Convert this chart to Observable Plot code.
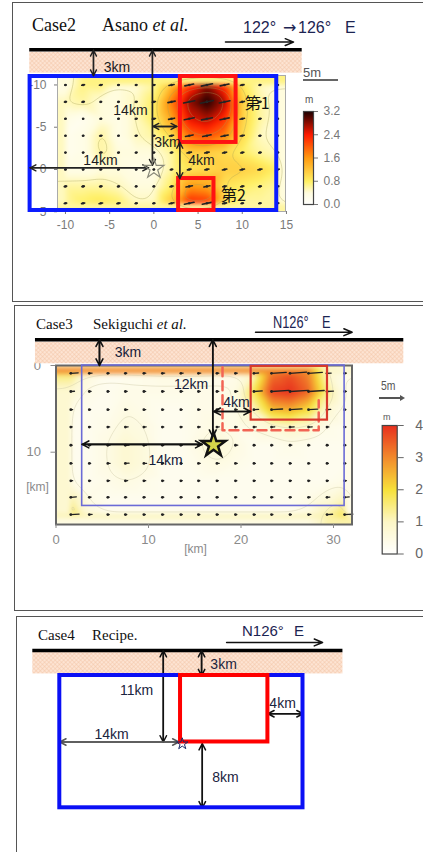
<!DOCTYPE html>
<html lang="ja"><head><meta charset="utf-8">
<script src="https://cdn.jsdelivr.net/npm/d3@7"></script>
<script src="https://cdn.jsdelivr.net/npm/@observablehq/plot@0.6"></script>
<style>
html,body{margin:0;padding:0;background:#fff;}
body{width:423px;height:852px;overflow:hidden;position:relative;}
.box{position:absolute;border:1.5px solid #555;box-sizing:border-box;width:600px;}
.t{position:absolute;white-space:nowrap;line-height:1;color:#111;}
.serif{font-family:"Liberation Serif","Times New Roman",serif;}
.sans{font-family:"Liberation Sans",Arial,sans-serif;}
.narrow{transform:scaleX(0.8);transform-origin:0 0;}
</style></head><body>
<svg width="0" height="0" style="position:absolute">
 <defs>
  <pattern id="hatch" patternUnits="userSpaceOnUse" width="3" height="3" patternTransform="rotate(45)">
   <rect width="3" height="3" fill="#fde4d3"/>
   <path d="M0,0V3M0,0H3" stroke="#f3c4a4" stroke-width="0.9"/>
  </pattern>
 </defs>
</svg>
<div class="box" style="left:12px;top:2px;height:300px"></div>
<div class="box" style="left:14px;top:305px;height:306px"></div>
<div class="box" style="left:16px;top:616px;height:400px"></div>

<div class="t serif" style="left:32px;top:16px;font-size:18px">Case2</div>
<div class="t serif" style="left:102px;top:16px;font-size:18px">Asano <i>et al.</i></div>
<div class="t sans" style="left:243px;top:20px;font-size:16px;color:#1c2452">122°</div>
<div class="t" style="left:283px;top:20px;font-size:16px;color:#1c2452;font-family:'DejaVu Sans',sans-serif">→</div>
<div class="t sans" style="left:298px;top:20px;font-size:16px;color:#1c2452">126°</div>
<div class="t sans" style="left:345px;top:20px;font-size:16px;color:#1c2452">E</div>
<div class="t sans" style="left:303px;top:66px;font-size:13px;color:#555">5m</div>
<div style="position:absolute;left:303px;top:79px;width:35px;height:2px;background:#666"></div>
<div class="t sans" style="left:305px;top:95px;font-size:10px;color:#555">m</div>

<div class="t serif" style="left:36px;top:317px;font-size:15px">Case3</div>
<div class="t serif" style="left:93px;top:317px;font-size:15px">Sekiguchi <i>et al.</i></div>
<div class="t sans narrow" style="left:273px;top:315px;font-size:16px;color:#1c2452">N126°</div>
<div class="t sans narrow" style="left:322px;top:315px;font-size:16px;color:#1c2452">E</div>
<div class="t sans narrow" style="left:381px;top:379px;font-size:13px;color:#555">5m</div>
<div style="position:absolute;left:379px;top:397px;width:22px;height:1.5px;background:#555"></div>
<div style="position:absolute;left:400px;top:395px;width:0;height:0;border-left:5px solid #555;border-top:3px solid transparent;border-bottom:3px solid transparent"></div>
<div class="t sans" style="left:383px;top:413px;font-size:9px;color:#555">m</div>

<div class="t serif" style="left:38px;top:628px;font-size:15px">Case4</div>
<div class="t serif" style="left:92px;top:628px;font-size:15px">Recipe.</div>
<div class="t sans" style="left:242px;top:623px;font-size:15px;color:#1c2452">N126°</div>
<div class="t sans" style="left:294px;top:623px;font-size:15px;color:#1c2452">E</div>

<script>
// ================= Panel 1 : Case2 Asano et al. =================
const p1Cols = [-10,-8,-6,-4,-2,0,2,4,6,8,10,12,14];      // km along strike
const p1Rows = [-10,-8,-6,-4,-2,0,2,4];                    // km along dip
const p1Slip = [                                            // slip (m)
  [0.3,0.7,0.7,0.4,0.4,0.6,1.3,2.2,2.8,2.2,0.9,0.5,0.4],
  [0.5,0.6,0.4,0.4,0.5,0.8,1.8,2.8,3.2,2.7,1.1,0.6,0.4],
  [0.3,0.2,0.4,0.3,0.5,0.8,1.5,2.5,2.7,2.3,1.1,0.6,0.4],
  [0.2,0.3,0.6,0.3,0.5,0.6,1.0,1.9,2.1,1.8,1.0,0.5,0.4],
  [0.2,0.3,0.6,0.4,0.4,0.4,0.6,1.1,1.1,1.0,0.8,0.6,0.5],
  [0.3,0.3,0.4,0.4,0.3,0.3,0.6,0.9,1.0,1.1,1.1,1.0,0.8],
  [0.6,0.6,0.6,0.5,0.4,0.4,0.8,1.6,1.5,0.9,0.8,0.7,0.6],
  [0.6,0.8,0.9,0.8,0.5,0.5,1.2,2.4,2.3,1.0,0.6,0.6,0.6]
];
const p1XTicks = [-10,-5,0,5,10,15];
const p1YTicks = [-10,-5,0,5];
const p1CbTicks = [0,0.8,1.6,2.4,3.2];
const p1Extent = {x1:-10.9, x2:14.89, y1:-11.12, y2:4.97};
const p1Fault = [{x1:-14.0, x2:13.9, y1:-11.0, y2:4.85}];
const p1Asper = [
  {name:"第1", x1:3.0, x2:9.3, y1:-11.0, y2:-3.2, lx:11.7, ly:-7.75},
  {name:"第2", x1:2.8, x2:6.8, y1:1.07, y2:4.85, lx:9.0, ly:3.08}
];
const p1Hypo = [{x:0, y:-0.1}];
const p1Dims = [
  {label:"3km",  x1:-6.83, y1:-14.1, x2:-6.83, y2:-11.1, lx:-4.17, ly:-12.07},
  {label:"14km", x1:-0.16, y1:-14.1, x2:-0.16, y2:-0.5,  lx:-2.65, ly:-6.98},
  {label:"14km", x1:-14.0, y1:-0.2,  x2:-0.6,  y2:-0.2,  lx:-6.04, ly:-1.07},
  {label:"3km",  x1:-0.1,  y1:-5.09, x2:2.6,   y2:-5.09, lx:1.54,  ly:-3.2},
  {label:"4km",  x1:2.93,  y1:-3.2,  x2:2.93,  y2:1.07,  lx:5.38,  ly:-1.07}
];
const p1Surface = [{x1:-14.04, x2:16.78, y:-14.17, b1:-13.88, b2:-11.4}];
const p1Strike = [{x1:8.1, x2:15.8, y:-15.07}];

// ================= Panel 2 : Case3 Sekiguchi et al. =================
const p2Cols = [1.6,3.6,5.6,7.5,9.5,11.5,13.5,15.4,17.4,19.4,21.4,23.3,25.3,27.3,29.3,31.2];
const p2Rows = [0.9,3.0,5.1,7.1,9.2,11.3,13.3,15.2,17.2];
const p2Slip = [
  [1.6,0.6,0.3,0.3,0.4,0.5,0.5,0.5,0.4,0.4,1.0,3.2,3.6,3.0,0.9,0.4],
  [0.8,0.4,0.3,0.4,0.4,0.4,0.4,0.4,0.4,0.5,1.8,3.8,4.0,3.4,1.4,0.4],
  [0.4,0.3,0.3,0.5,0.4,0.3,0.3,0.4,0.4,0.4,1.0,2.4,2.6,2.0,0.8,0.3],
  [0.3,0.3,0.4,0.6,0.5,0.3,0.3,0.4,0.5,0.4,0.5,0.7,0.9,0.8,0.4,0.3],
  [0.3,0.3,0.5,0.8,0.6,0.3,0.3,0.5,0.7,0.5,0.3,0.3,0.4,0.3,0.3,0.3],
  [0.3,0.3,0.5,0.8,0.6,0.3,0.3,0.4,0.5,0.4,0.3,0.3,0.3,0.3,0.3,0.3],
  [0.4,0.3,0.4,0.5,0.4,0.3,0.3,0.3,0.3,0.3,0.3,0.3,0.3,0.3,0.3,0.4],
  [1.2,0.4,0.3,0.3,0.3,0.3,0.3,0.3,0.3,0.3,0.3,0.3,0.3,0.4,0.6,1.0],
  [1.8,0.6,0.3,0.3,0.3,0.3,0.3,0.3,0.3,0.3,0.3,0.3,0.3,0.5,1.2,1.8]
];
const p2XTicks = [0,10,20,30];
const p2YTicks = [0,10];
const p2CbTicks = [0,1,2,3,4];
const p2AxisLabels = [{label:"[km]", x:15.08, y:21.2}, {label:"[km]", x:-2.0, y:14.04}];
const p2Extent = {x1:0, x2:32, y1:0, y2:18.34};
const p2Fault = [{x1:2.83, x2:31.2, y1:0, y2:16.2}];
const p2Asper = [{x1:21.1, x2:29.35, y1:0.1, y2:6.3}];
const p2Dashed = [{x:18.0, y:0.2},{x:18.0, y:7.47},{x:28.4, y:7.47},{x:28.4, y:4.0}];
const p2Hypo = [{x:17.03, y:9.17}];
const p2Dims = [
  {label:"3km",  x1:4.7,   y1:-2.96, x2:4.7,   y2:0,    lx:7.78,  ly:-1.53},
  {label:"12km", x1:16.95, y1:-2.96, x2:16.95, y2:8.2,  lx:14.6,  ly:2.19},
  {label:"4km",  x1:17.06, y1:5.3,   x2:21.03, y2:5.3,  lx:19.5,  ly:4.3},
  {label:"14km", x1:2.83,  y1:9.1,   x2:15.8,  y2:9.1,  lx:11.84, ly:10.96}
];
const p2Surface = [{x1:-2.22, x2:37.6, y:-2.96, b1:-2.69, b2:-0.2}];
const p2Strike = [{x1:21.57, x2:32.02, y:-3.84}];

// ================= Panel 3 : Case4 Recipe =================
const p3Fault = [{x1:-14, x2:14.2, y1:-8.01, y2:7.93}];
const p3Asper = [{x1:0, x2:10.13, y1:-8.01, y2:0}];
const p3Hypo = [{x:0.2, y:0.22}];
const p3Dims = [
  {label:"3km",  x1:2.44,  y1:-11.0, x2:2.44, y2:-8.0, lx:4.99,  ly:-9.34},
  {label:"11km", x1:-2.0,  y1:-11.0, x2:-2.0, y2:0,    lx:-5.1,  ly:-6.2},
  {label:"4km",  x1:10.13, y1:-3.4,  x2:14.2, y2:-3.4, lx:11.83, ly:-4.64},
  {label:"14km", x1:-14,   y1:0,     x2:-0.2, y2:0,    lx:-8.0,  ly:-0.84},
  {label:"8km",  x1:2.52,  y1:0.2,   x2:2.52, y2:7.93, lx:5.22,  ly:4.28}
];
const p3Surface = [{x1:-17.13, x2:18.83, y:-11.02, b1:-10.8, b2:-8.2}];
const p3Strike = [{x1:5.34, x2:16.47, y:-11.99}];

// ---------- helpers ----------
const grid = (rows, cols, vals) => rows.flatMap((y, i) => cols.map((x, j) => ({x, y, v: vals[i][j]})));
const p1Grid = grid(p1Rows, p1Cols, p1Slip);
const p2Grid = grid(p2Rows, p2Cols, p2Slip);
const SANS = "Liberation Sans, Arial, sans-serif";
const baseStyle = {background: "transparent", overflow: "visible", fontFamily: SANS};
const color1 = {type: "linear", domain: [0,0.4,0.8,1.6,2.4,3.2],
  range: ["#ffffff","#fffcde","#fff064","#ff9a10","#ff1a00","#1c0000"], clamp: true};
const color2 = {type: "linear", domain: [0,1,2,3,4],
  range: ["#ffffff","#fcf6c6","#f7e13a","#f28a2c","#e8301e"], clamp: true};

const dimArrows = (dims, stroke, sw) => [
  Plot.arrow(dims, {x1:"x1", y1:"y1", x2:"x2", y2:"y2", stroke, strokeWidth: sw, headLength: 7, headAngle: 55}),
  Plot.arrow(dims, {x1:"x2", y1:"y2", x2:"x1", y2:"y1", stroke, strokeWidth: sw, headLength: 7, headAngle: 55})
];
const dimLabels = (dims, fill) => Plot.text(dims, {x:"lx", y:"ly", text:"label", fontSize: 14, fill, fontFamily: SANS});
const surfaceMarks = (s, st, sw) => [
  Plot.rect(s, {x1:"x1", x2:"x2", y1:"b1", y2:"b2", fill:"url(#hatch)"}),
  Plot.ruleY(s, {y:"y", x1:"x1", x2:"x2", stroke:"#000", strokeWidth: sw}),
  Plot.arrow(st, {x1:"x1", x2:"x2", y1:"y", y2:"y", stroke:"#111", strokeWidth: 1.5, headLength: 9, headAngle: 45})
];
// slip vectors as short segments (length proportional to slip)
const slipLinks = (data, k, deg, centered, sw) => {
  const c = Math.cos(deg * Math.PI / 180), s = Math.sin(deg * Math.PI / 180);
  const a = centered ? 0.5 : 0, b = centered ? 0.5 : 1;
  return Plot.link(data, {
    x1: d => d.x - a * k * d.v * c, y1: d => d.y + a * k * d.v * s,
    x2: d => d.x + b * k * d.v * c, y2: d => d.y - b * k * d.v * s,
    stroke: "#222", strokeWidth: sw, strokeLinecap: "round"
  });
};
function place(el, left, top) {
  el.style.position = "absolute";
  el.style.left = left + "px";
  el.style.top = top + "px";
  document.body.appendChild(el);
}

// ---------- Panel 1 ----------
const plot1 = Plot.plot({
  width: 410, height: 298, marginLeft: 44, marginRight: 138, marginTop: 72, marginBottom: 90,
  style: baseStyle,
  x: {domain: [p1Extent.x1, p1Extent.x2]},
  y: {domain: [p1Extent.y2, p1Extent.y1]},
  color: color1,
  marks: [
    Plot.raster(p1Grid, {x:"x", y:"y", fill:"v", interpolate:"barycentric", ...p1Extent, blur: 2}),
    Plot.contour(p1Grid, {x:"x", y:"y", value:"v", interpolate:"barycentric", ...p1Extent, blur: 3,
      thresholds: [0.5,1,1.5,2,2.5,3], stroke:"#a59f55", strokeWidth: 0.6, strokeOpacity: 0.6, fill:"none"}),
    Plot.frame({stroke:"#aaa"}),
    Plot.dot(p1Grid, {x:"x", y:"y", r: 1.3, fill:"#333"}),
    slipLinks(p1Grid, 0.46, 12, true, 1.6),
    Plot.axisX(p1XTicks, {tickSize: 3, tickPadding: 6, fontSize: 12, color:"#7a7a7a", tickFormat: d => String(d), label: null}),
    Plot.axisY(p1YTicks, {tickSize: 3, tickPadding: 8, fontSize: 12, color:"#7a7a7a", tickFormat: d => String(d), label: null}),
    ...surfaceMarks(p1Surface, p1Strike, 3.5),
    Plot.rect(p1Fault, {x1:"x1", x2:"x2", y1:"y1", y2:"y2", fill:"none", stroke:"#0b1cff", strokeWidth: 4}),
    Plot.rect(p1Asper, {x1:"x1", x2:"x2", y1:"y1", y2:"y2", fill:"none", stroke:"#ff1212", strokeWidth: 4}),
    ...dimArrows(p1Dims, "#222", 1.4),
    Plot.dot(p1Hypo, {x:"x", y:"y", symbol:"star", r: 6.3, fill:"none", stroke:"#8a8a7a", strokeWidth: 1.2}),
    dimLabels(p1Dims, "#1b1b22"),
    Plot.text(p1Asper, {x:"lx", y:"ly", text:"name", fontSize: 16, fontFamily:"Noto Sans CJK JP", fill:"#111"})
  ]
});
place(plot1, 13, 3);

const cb1 = Plot.plot({
  width: 70, height: 160, marginLeft: 13, marginRight: 47, marginTop: 51, marginBottom: 16,
  style: baseStyle,
  x: {domain: [0, 1], axis: null},
  y: {domain: [0, 3.2]},
  color: color1,
  marks: [
    Plot.raster({x1: 0, x2: 1, y1: 3.2, y2: 0, fill: (x, y) => y, width: 1, height: 190, imageRendering: "auto"}),
    Plot.frame({stroke:"#444", strokeWidth: 1.2}),
    Plot.axisY(p1CbTicks, {anchor:"right", tickSize: 4, tickPadding: 6, fontSize: 12, color:"#777", tickFormat: d => d.toFixed(1), label: null})
  ]
});
place(cb1, 290, 60);

// ---------- Panel 2 ----------
const plot2 = Plot.plot({
  width: 408, height: 304, marginLeft: 40.5, marginRight: 71.5, marginTop: 58, marginBottom: 87,
  style: baseStyle,
  x: {domain: [p2Extent.x1, p2Extent.x2]},
  y: {domain: [p2Extent.y2, p2Extent.y1]},
  color: color2,
  marks: [
    Plot.raster(p2Grid, {x:"x", y:"y", fill:"v", interpolate:"barycentric", ...p2Extent, blur: 2}),
    Plot.contour(p2Grid, {x:"x", y:"y", value:"v", interpolate:"barycentric", ...p2Extent, blur: 3,
      thresholds: [0.5,1], stroke:"#cdc8a6", strokeWidth: 0.6, strokeOpacity: 0.7, fill:"none"}),
    Plot.dot(p2Grid, {x:"x", y:"y", r: 1.4, fill:"#222"}),
    slipLinks(p2Grid, 0.5, 4, false, 1.3),
    Plot.frame({stroke:"#666", strokeWidth: 2}),
    Plot.axisX(p2XTicks, {tickSize: 4, tickPadding: 6, fontSize: 13, color:"#8a8a8a", label: null}),
    Plot.axisY(p2YTicks, {tickSize: 5, tickPadding: 10, fontSize: 13, color:"#8a8a8a", label: null}),
    Plot.text(p2AxisLabels, {x:"x", y:"y", text:"label", fontSize: 12, fill:"#8a8a8a"}),
    Plot.rect(p2Fault, {x1:"x1", x2:"x2", y1:"y1", y2:"y2", fill:"none", stroke:"#6b6bd6", strokeWidth: 1.6}),
    Plot.line(p2Dashed, {x:"x", y:"y", stroke:"#f26454", strokeWidth: 2.5, strokeDasharray:"9,5"}),
    Plot.rect(p2Asper, {x1:"x1", x2:"x2", y1:"y1", y2:"y2", fill:"none", stroke:"#d8392b", strokeWidth: 2.2}),
    ...surfaceMarks(p2Surface, p2Strike, 3.5),
    ...dimArrows(p2Dims, "#111", 1.6),
    Plot.dot(p2Hypo, {x:"x", y:"y", symbol:"star", r: 7.5, fill:"#d6d64a", stroke:"#111", strokeWidth: 2.5}),
    dimLabels(p2Dims, "#16203a")
  ]
});
place(plot2, 15, 307);

const cb2 = Plot.plot({
  width: 53, height: 170, marginLeft: 11.7, marginRight: 26.3, marginTop: 25, marginBottom: 16.5,
  style: baseStyle,
  x: {domain: [0, 1], axis: null},
  y: {domain: [0, 4]},
  color: color2,
  marks: [
    Plot.raster({x1: 0, x2: 1, y1: 4, y2: 0, fill: (x, y) => y, width: 1, height: 200, imageRendering: "auto"}),
    Plot.frame({stroke:"#444", strokeWidth: 1.2}),
    Plot.axisY(p2CbTicks, {anchor:"right", tickSize: 6, tickPadding: 12, fontSize: 14, color:"#666", label: null})
  ]
});
place(cb2, 370, 400);

// ---------- Panel 3 ----------
const plot3 = Plot.plot({
  width: 406, height: 235, marginLeft: 42.3, marginRight: 120.5, marginTop: 58, marginBottom: 44.7,
  style: baseStyle,
  x: {domain: [-14, 14.2], axis: null},
  y: {domain: [7.93, -8.01], axis: null},
  marks: [
    ...surfaceMarks(p3Surface, p3Strike, 3.5),
    ...dimArrows(p3Dims.filter(d => d.label !== "14km"), "#111", 1.5),
    ...dimArrows(p3Dims.filter(d => d.label === "14km"), "#555", 1.5),
    dimLabels(p3Dims, "#1a2440"),
    Plot.rect(p3Fault, {x1:"x1", x2:"x2", y1:"y1", y2:"y2", fill:"none", stroke:"#0a10f5", strokeWidth: 4}),
    Plot.rect(p3Asper, {x1:"x1", x2:"x2", y1:"y1", y2:"y2", fill:"none", stroke:"#ff0000", strokeWidth: 4}),
    Plot.dot(p3Hypo, {x:"x", y:"y", symbol:"star", r: 3.6, fill:"none", stroke:"#1a2a66", strokeWidth: 1})
  ]
});
place(plot3, 17, 617);
</script>
</body></html>
